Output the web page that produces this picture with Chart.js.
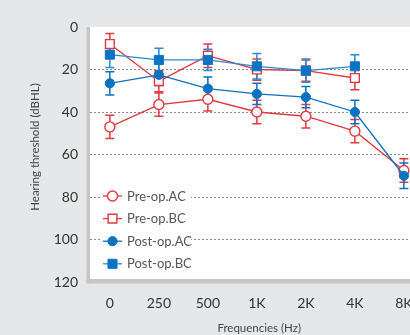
<!DOCTYPE html>
<html>
<head>
<meta charset="utf-8">
<script src="https://cdn.jsdelivr.net/npm/chart.js@4/dist/chart.umd.min.js"></script>
<style>
  html, body { margin: 0; padding: 0; background: #e6e7e8; overflow: hidden; }
  canvas { display: block; }
</style>
</head>
<body>
<canvas id="chart" width="436" height="335"></canvas>
<script>
// Audiogram: mean hearing thresholds (dBHL) with SD, before and after surgery
const frequencies = ['0', '250', '500', '1K', '2K', '4K', '8K'];
const yTicks = [0, 20, 40, 60, 80, 100, 120];

const preOpAC   = [47, 36.5, 34, 40, 42, 49, 67.5];
const preOpACsd = [5.5, 5.5, 5.5, 5.5, 5.5, 5.5, 5.5];
const preOpBC   = [8, 25.5, 13.5, 20, 20.5, 24];
const preOpBCsd = [5, 5, 5.5, 5, 5, 5.5];
const postOpAC   = [26.5, 22.5, 29, 31.5, 33, 40, 70];
const postOpACsd = [5.5, 5, 5.5, 5, 5, 5.5, 6];
const postOpBC   = [13, 15.5, 15.5, 18.5, 20.5, 18.5];
const postOpBCsd = [6, 5.5, 5, 6, 5.5, 5.5];

const yTitle = 'Hearing threshold (dBHL)';

const RED = '#e2393f';
const BLUE = '#0b72c0';
const LIGHT_BLUE = '#2a8ad3';
const FONT = 'Lato, "Noto Sans", sans-serif';

const toPoints = vals => vals.map((v, i) => ({ x: i, y: v }));

// lower "order" is painted last, so post-op marks sit on top
const datasets = [
  { label: 'Pre-op.AC', data: toPoints(preOpAC), sd: preOpACsd, borderColor: RED, order: 1,
    backgroundColor: '#ffffff', pointStyle: 'circle', pointRadius: 5, pointBorderWidth: 1.4 },
  { label: 'Pre-op.BC', data: toPoints(preOpBC), sd: preOpBCsd, borderColor: RED, order: 1,
    backgroundColor: '#ffffff', pointStyle: 'rect', pointRadius: 6.2, pointBorderWidth: 1.4 },
  { label: 'Post-op.AC', data: toPoints(postOpAC), sd: postOpACsd, borderColor: BLUE, order: 0,
    backgroundColor: BLUE, pointStyle: 'circle', pointRadius: 4.6, pointBorderWidth: 1 },
  { label: 'Post-op.BC', data: toPoints(postOpBC), sd: postOpBCsd, borderColor: LIGHT_BLUE, order: 0,
    backgroundColor: '#0a74c4', pointStyle: 'rect', pointRadius: 6.4, pointBorderWidth: 1,
    pointBorderColor: '#0a74c4' }
];
datasets.forEach(d => {
  d.borderWidth = 1.3;
  d.pointBackgroundColor = d.backgroundColor;
  if (!d.pointBorderColor) d.pointBorderColor = d.borderColor;
  d.tension = 0;
  d.fill = false;
});

// Gray page, white plotting area, thick gray axis lines, rotated y title
const frame = {
  id: 'frame',
  beforeDraw(chart) {
    const { ctx, chartArea: a } = chart;
    ctx.save();
    ctx.fillStyle = '#e6e7e8';
    ctx.fillRect(0, 0, chart.width, chart.height);
    ctx.fillStyle = '#ffffff';
    ctx.fillRect(a.left, a.top, chart.width - a.left, a.bottom - a.top);
    ctx.restore();
  },
  beforeDatasetsDraw(chart) {
    const { ctx, chartArea: a } = chart;
    ctx.save();
    ctx.fillStyle = '#c5c6c8';
    ctx.fillRect(a.left - 3.5, a.top, 3.5, a.bottom - a.top + 1.5);
    ctx.fillRect(a.left - 3.5, a.bottom - 3, chart.width - a.left + 3.5, 4.5);
    ctx.restore();
  },
  afterDraw(chart) {
    const { ctx, chartArea: a } = chart;
    ctx.save();
    ctx.translate(35, (a.top + a.bottom) / 2 - 7.5);
    ctx.rotate(-Math.PI / 2);
    ctx.fillStyle = '#444444';
    ctx.font = '11.5px ' + FONT;
    ctx.textAlign = 'center';
    ctx.textBaseline = 'middle';
    ctx.fillText(yTitle, 0, 0);
    ctx.restore();
  }
};

// Vertical SD bars with caps, drawn under the markers
const errorBars = {
  id: 'errorBars',
  beforeDatasetsDraw(chart) {
    const { ctx } = chart;
    const xs = chart.scales.x, ys = chart.scales.y;
    ctx.save();
    chart.data.datasets.forEach(ds => {
      ctx.strokeStyle = ds.borderColor;
      ctx.lineWidth = 1.5;
      ds.data.forEach((p, i) => {
        const e = ds.sd[i];
        const x = xs.getPixelForValue(p.x);
        const y1 = ys.getPixelForValue(p.y - e);
        const y2 = ys.getPixelForValue(p.y + e);
        ctx.beginPath();
        ctx.moveTo(x, y1); ctx.lineTo(x, y2);
        ctx.moveTo(x - 4.5, y1); ctx.lineTo(x + 4.5, y1);
        ctx.moveTo(x - 4.5, y2); ctx.lineTo(x + 4.5, y2);
        ctx.stroke();
      });
    });
    ctx.restore();
  }
};

// Legend inside the plot, lower left, on a white backing
const insideLegend = {
  id: 'insideLegend',
  afterDatasetsDraw(chart) {
    const { ctx, chartArea: a } = chart;
    const x0 = a.left + 13, y0 = a.top + 169, step = 22.6;
    ctx.save();
    ctx.fillStyle = '#ffffff';
    ctx.fillRect(x0 - 1, y0 - 10, 89, step * 3 + 20);
    chart.data.datasets.forEach((ds, i) => {
      const y = y0 + i * step;
      const cx = x0 + 9.5;
      ctx.strokeStyle = ds.borderColor;
      ctx.lineWidth = 1.3;
      ctx.beginPath();
      ctx.moveTo(x0, y); ctx.lineTo(x0 + 19, y);
      ctx.stroke();
      ctx.fillStyle = ds.pointBackgroundColor;
      ctx.strokeStyle = ds.pointBorderColor;
      ctx.lineWidth = ds.pointBorderWidth;
      ctx.beginPath();
      if (ds.pointStyle === 'circle') {
        ctx.arc(cx, y, ds.pointRadius, 0, Math.PI * 2);
      } else {
        const s = ds.pointRadius / Math.SQRT2;
        ctx.rect(cx - s, y - s, 2 * s, 2 * s);
      }
      ctx.fill();
      ctx.stroke();
      ctx.fillStyle = '#555555';
      ctx.font = '13px ' + FONT;
      ctx.textAlign = 'left';
      ctx.textBaseline = 'middle';
      ctx.fillText(ds.label, x0 + 24, y + 0.5);
    });
    ctx.restore();
  }
};

new Chart(document.getElementById('chart'), {
  type: 'line',
  data: { datasets },
  options: {
    responsive: false,
    animation: false,
    devicePixelRatio: 1,
    layout: { padding: { left: 22, top: 27, right: 0, bottom: 0 } },
    plugins: { legend: { display: false }, tooltip: { enabled: false } },
    scales: {
      x: {
        type: 'linear',
        min: -0.405,
        max: 6.5,
        afterBuildTicks: s => { s.ticks = frequencies.map((_, i) => ({ value: i })); },
        afterFit: s => { s.height = 53; s.paddingLeft = 0; s.paddingRight = 0; },
        grid: { display: false, drawTicks: false },
        border: { display: false },
        ticks: {
          padding: 13,
          color: '#333333',
          font: { family: FONT, size: 14 },
          callback: v => frequencies[v]
        },
        title: {
          display: true,
          text: 'Frequencies (Hz)',
          color: '#444444',
          font: { family: FONT, size: 11.5 },
          padding: { top: 0, bottom: 0 }
        }
      },
      y: {
        reverse: true,
        min: 0,
        max: 120,
        afterBuildTicks: s => { s.ticks = yTicks.map(v => ({ value: v })); },
        afterFit: s => { s.width = 68; },
        grid: {
          drawTicks: false,
          color: c => (c.tick && c.tick.value > 0 && c.tick.value < 120) ? '#8a8a8a' : 'rgba(0,0,0,0)',
          lineWidth: 1
        },
        border: { display: false, dash: [2, 2] },
        ticks: {
          padding: 12,
          color: '#333333',
          font: { family: FONT, size: 14 }
        },
        title: { display: false }
      }
    }
  },
  plugins: [frame, errorBars, insideLegend]
});
</script>
</body>
</html>
